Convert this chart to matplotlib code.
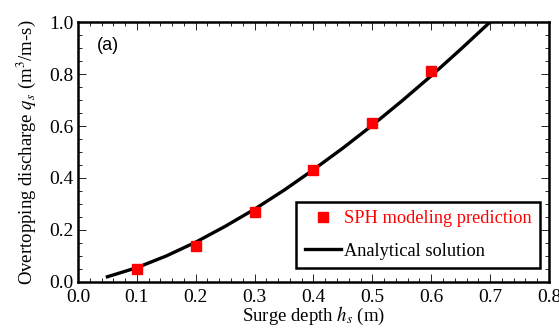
import matplotlib as mpl
mpl.use("agg")
import matplotlib.pyplot as plt
from matplotlib.ticker import MultipleLocator

mpl.rcParams['font.family'] = 'Liberation Serif'
mpl.rcParams['mathtext.fontset'] = 'stix'

# SPH points
h_sph = [0.1, 0.2, 0.3, 0.4, 0.5, 0.6]
q_sph = [0.05, 0.14, 0.27, 0.43, 0.61, 0.81]

# analytical curve
h_ana = [0.05, 0.10, 0.15, 0.20, 0.25, 0.30, 0.35, 0.40, 0.45, 0.50, 0.55, 0.60, 0.65, 0.70]
q_ana = [0.02, 0.055, 0.10, 0.153, 0.214, 0.28, 0.353, 0.432, 0.515, 0.603, 0.696, 0.793, 0.895, 1.0]

fig = plt.figure(figsize=(5.59, 3.29), dpi=100)
ax = fig.add_axes([0.1395, 0.143, 0.8425, 0.79])

ax.plot(h_sph, q_sph, 's', color='red', markersize=7, label="SPH modeling prediction", zorder=3)
ax.plot(h_ana, q_ana, '-', color='black', lw=2.4, label="Analytical solution")

ax.set_xlim(0, 0.8)
ax.set_ylim(0, 1.0)
ax.xaxis.set_major_locator(MultipleLocator(0.1))
ax.xaxis.set_minor_locator(MultipleLocator(0.02))
ax.yaxis.set_major_locator(MultipleLocator(0.2))
ax.yaxis.set_minor_locator(MultipleLocator(0.05))
ax.xaxis.set_major_formatter(mpl.ticker.FormatStrFormatter('%.1f'))
ax.yaxis.set_major_formatter(mpl.ticker.FormatStrFormatter('%.1f'))
ax.tick_params(which='both', direction='in', top=True, right=True, labelsize=14, width=0.6)
ax.tick_params(which='major', length=6, pad=3)
ax.tick_params(axis='x', which='major', pad=5)
ax.tick_params(which='minor', length=3)
for s in ax.spines.values():
	s.set_linewidth(1.8)

ax.set_xlabel("Surge depth $h_s$ (m)", fontsize=13.5, labelpad=-1)
ax.set_ylabel("Overtopping discharge $q_s$ (m$^3$/m-s)", fontsize=13.5, labelpad=8)

ax.text(0.04, 0.91, "(a)", transform=ax.transAxes, fontsize=13, family='Liberation Sans', va='center')

leg = ax.legend(loc='lower right', bbox_to_anchor=(0.981, 0.054), fontsize=13.2, fancybox=False,
	framealpha=1, edgecolor='black', borderaxespad=0, borderpad=0.45, labelspacing=0.85,
	handlelength=2.0, handletextpad=0.15)
leg.get_frame().set_linewidth(1.8)
leg.get_texts()[0].set_color('red')

plt.savefig("out.png", dpi=100)
